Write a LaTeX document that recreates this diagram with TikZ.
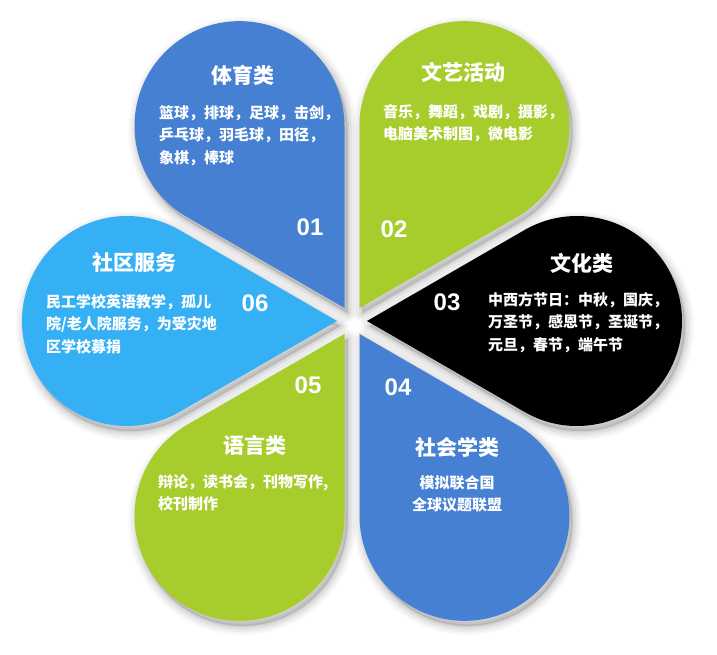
\documentclass[tikz,border=0pt]{standalone}
\usepackage{fontspec}
\newfontfamily\cjk{Noto Sans CJK SC}
\newfontfamily\numf{Liberation Sans}
\definecolor{pblue}{HTML}{4680D2}
\definecolor{plight}{HTML}{35B0F5}
\definecolor{pgreen}{HTML}{A6CD2B}
\definecolor{pblack}{HTML}{000000}
\tikzset{
  petalpic/.pic={\fill[pic actions] (15,0) -- (172.5,90.93) arc[start angle=120,end angle=-120,radius=105] -- cycle;},
  petalshadow/.pic={
    \foreach \w/\o in {18/0.03,13/0.04,8/0.05,3/0.07}{
      \draw[black,opacity=\o,line width=\w pt,line join=round] (15,0) -- (172.5,90.93) arc[start angle=120,end angle=-120,radius=105] -- cycle;}
    \fill[black,opacity=0.12] (15,0) -- (172.5,90.93) arc[start angle=120,end angle=-120,radius=105] -- cycle;
  },
  ttl/.style={text=white,font=\cjk\bfseries\fontsize{21}{25}\selectfont,inner sep=0},
  bodytxt/.style={text=white,font=\cjk\bfseries\fontsize{15}{22.5}\selectfont,align=left,inner sep=0,anchor=north west},
  numtxt/.style={text=white,font=\numf\bfseries\fontsize{24}{28}\selectfont,inner sep=0},
}
\begin{document}
\begin{tikzpicture}[x=1pt,y=-1pt]
\useasboundingbox[fill=white] (0,0) rectangle (717,655);
% shadows
\foreach \a in {120,60,0,-60,-120,180}{
  \pic[rotate=\a] at (355,326) {petalshadow};
}
% petals
\pic[rotate=120,fill=pblue]  at (352,321) {petalpic};
\pic[rotate=60,fill=pgreen]  at (352,321) {petalpic};
\pic[rotate=0,fill=pblack]   at (352,321) {petalpic};
\pic[rotate=-60,fill=pblue]  at (352,321) {petalpic};
\pic[rotate=-120,fill=pgreen] at (352,321) {petalpic};
\pic[rotate=180,fill=plight] at (352,321) {petalpic};
% 01
\node[ttl] (t1) at (243,75) {体育类};
\node[bodytxt] (b1) at (159,105) {篮球，排球，足球，击剑，\\乒乓球，羽毛球，田径，\\象棋，棒球};
\node[numtxt] (n1) at (310,227) {01};
% 02
\node[ttl] (t2) at (463,72) {文艺活动};
\node[bodytxt] (b2) at (383,104) {音乐，舞蹈，戏剧，摄影，\\电脑美术制图，微电影};
\node[numtxt] (n2) at (394,229) {02};
% 03
\node[ttl] (t3) at (582,263) {文化类};
\node[bodytxt] (b3) at (488,292) {中西方节日：中秋，国庆，\\万圣节，感恩节，圣诞节，\\元旦，春节，端午节};
\node[numtxt] (n3) at (447,302) {03};
% 04
\node[ttl] (t4) at (457,447) {社会学类};
\node[bodytxt,align=center,anchor=north] (b4) at (457,475) {模拟联合国\\全球议题联盟};
\node[numtxt] (n4) at (398,387) {04};
% 05
\node[ttl] (t5) at (255,445) {语言类};
\node[bodytxt] (b5) at (158,474) {辩论，读书会，刊物写作,\\校刊制作};
\node[numtxt] (n5) at (308,385) {05};
% 06
\node[ttl] (t6) at (134,262) {社区服务};
\node[bodytxt] (b6) at (46,294) {民工学校英语教学，孤儿\\院/老人院服务，为受灾地\\区学校募捐};
\node[numtxt] (n6) at (255,303) {06};
\end{tikzpicture}
\end{document}
